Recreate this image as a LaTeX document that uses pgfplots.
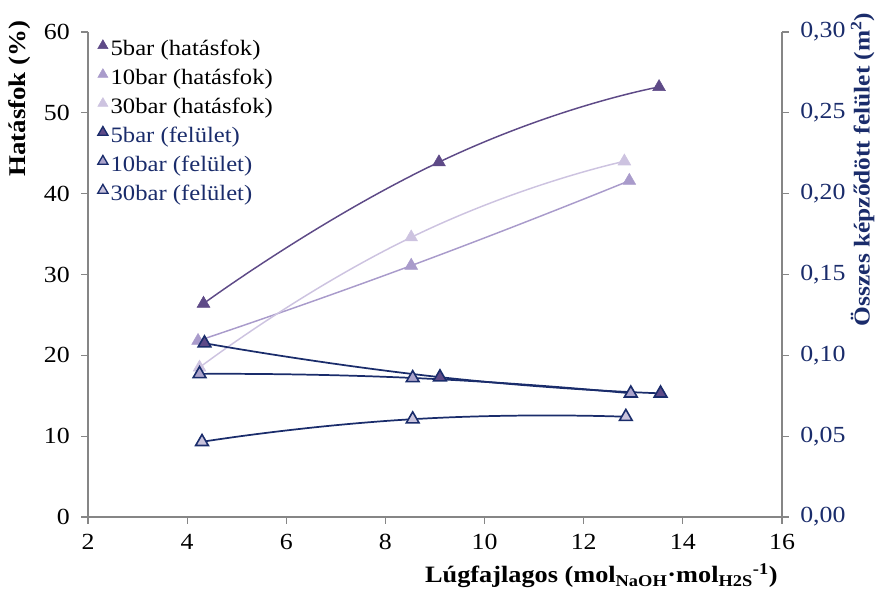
\documentclass[border=0pt]{standalone}
\usepackage{fontspec}
\setmainfont{Liberation Serif}[FakeStretch=1.12]
\usepackage{pgfplots}
\pgfplotsset{compat=1.18}

\definecolor{hat5}{HTML}{5E4A87}
\definecolor{hat10}{HTML}{A99BCB}
\definecolor{hat30}{HTML}{CDC3E0}
\definecolor{fel5}{HTML}{5E4A87}
\definecolor{fel10}{HTML}{ABA3CB}
\definecolor{fel30}{HTML}{C9C3DC}
\definecolor{navy}{HTML}{1A2C6B}
\definecolor{axisgray}{HTML}{868686}

\newcommand{\ticksize}{\fontsize{17.3}{20}\selectfont}

\pgfplotsset{
  base/.style={
    scale only axis, width=520.5pt, height=363.75pt,
    at={(0,0)}, anchor=south west,
    xmin=2, xmax=16,
    tick align=outside, major tick length=5pt,
    axis line style={axisgray, line width=0.9pt},
    tick style={axisgray, line width=0.9pt},
    tick label style={font=\ticksize},
    /pgf/number format/assume math mode=true,
    clip=false,
  },
  hatline/.style={smooth, tension=0.95, line width=1.1pt, color=#1, mark=triangle*,
    mark size=5.5pt, mark options={solid, fill=#1, draw=#1, line width=0.4pt}},
  felline/.style={smooth, tension=0.95, line width=1.3pt, color=navy, mark=triangle*,
    mark size=5.5pt, mark options={solid, fill=#1, draw=navy, line width=1.2pt}},
}

\begin{document}
\fontsize{16.5}{19}\selectfont
\begin{tikzpicture}
% left axis: efficiency (%)
\begin{axis}[base,
  axis y line*=left, axis x line*=bottom,
  ymin=0, ymax=60, ytick={0,10,...,60},
  xtick={2,4,...,16},
  yticklabel style={xshift=-3pt},
  xticklabel style={yshift=-2pt},
]
\addplot[hatline=hat5] coordinates {(4.33,26.4) (9.08,43.9) (13.52,53.2)};
\addplot[hatline=hat10] coordinates {(4.22,21.8) (8.52,31.1) (12.92,41.6)};
\addplot[hatline=hat30] coordinates {(4.25,18.5) (8.52,34.6) (12.82,44.0)};
\end{axis}
% right axis: total formed surface (m2)
\begin{axis}[base,
  axis y line*=right, axis x line=none,
  ymin=0, ymax=0.3, ytick={0,0.05,0.1,0.15,0.2,0.25,0.3},
  yticklabel style={navy, xshift=3pt, /pgf/number format/.cd, fixed, fixed zerofill, precision=2, use comma},
  legend style={at={(0.008,0.995)}, anchor=north west, draw=none, fill=none,
    row sep=3.6pt, nodes={inner sep=2pt}},
  legend cell align=left,
  legend image code/.code={\draw[#1, only marks, mark size=4.4pt] plot coordinates {(0.12cm,0.1cm)};},
]
\addlegendimage{mark=triangle*, mark options={fill=hat5, draw=hat5}}
\addlegendentry{5bar (hatásfok)}
\addlegendimage{mark=triangle*, mark options={fill=hat10, draw=hat10}}
\addlegendentry{10bar (hatásfok)}
\addlegendimage{mark=triangle*, mark options={fill=hat30, draw=hat30}}
\addlegendentry{30bar (hatásfok)}
\addlegendimage{mark=triangle*, mark options={fill=fel5, draw=navy, line width=1pt}}
\addlegendentry{\textcolor{navy}{5bar (felület)}}
\addlegendimage{mark=triangle*, mark options={fill=fel10, draw=navy, line width=1pt}}
\addlegendentry{\textcolor{navy}{10bar (felület)}}
\addlegendimage{mark=triangle*, mark options={fill=fel30, draw=navy, line width=1pt}}
\addlegendentry{\textcolor{navy}{30bar (felület)}}

\addplot[felline=fel10, forget plot] coordinates {(4.25,0.0885) (8.55,0.0860) (12.95,0.0765)};
\addplot[felline=fel30, forget plot] coordinates {(4.30,0.0465) (8.55,0.0605) (12.85,0.0620)};
\addplot[felline=fel5, forget plot] coordinates {(4.35,0.1075) (9.10,0.0865) (13.55,0.0765)};
\end{axis}

% axis titles
\node[rotate=90, anchor=east, font=\fontsize{18}{20}\selectfont\bfseries] at (-51pt,378pt) {Hatásfok (\%)};
\node[rotate=90, anchor=east, font=\fontsize{17}{20}\selectfont\bfseries, text=navy] at (581pt,384pt)
  {Összes képződött felület (m\textsuperscript{2})};
\node[anchor=base east, font=\fontsize{17.6}{20}\selectfont\bfseries] at (523pt,-49.5pt)
  {Lúgfajlagos (mol\textsubscript{NaOH}·mol\textsubscript{H2S}\textsuperscript{-1})};

\pgfresetboundingbox
\path (-66pt,-55.5pt) rectangle (590.25pt,387.75pt);
\end{tikzpicture}
\end{document}
